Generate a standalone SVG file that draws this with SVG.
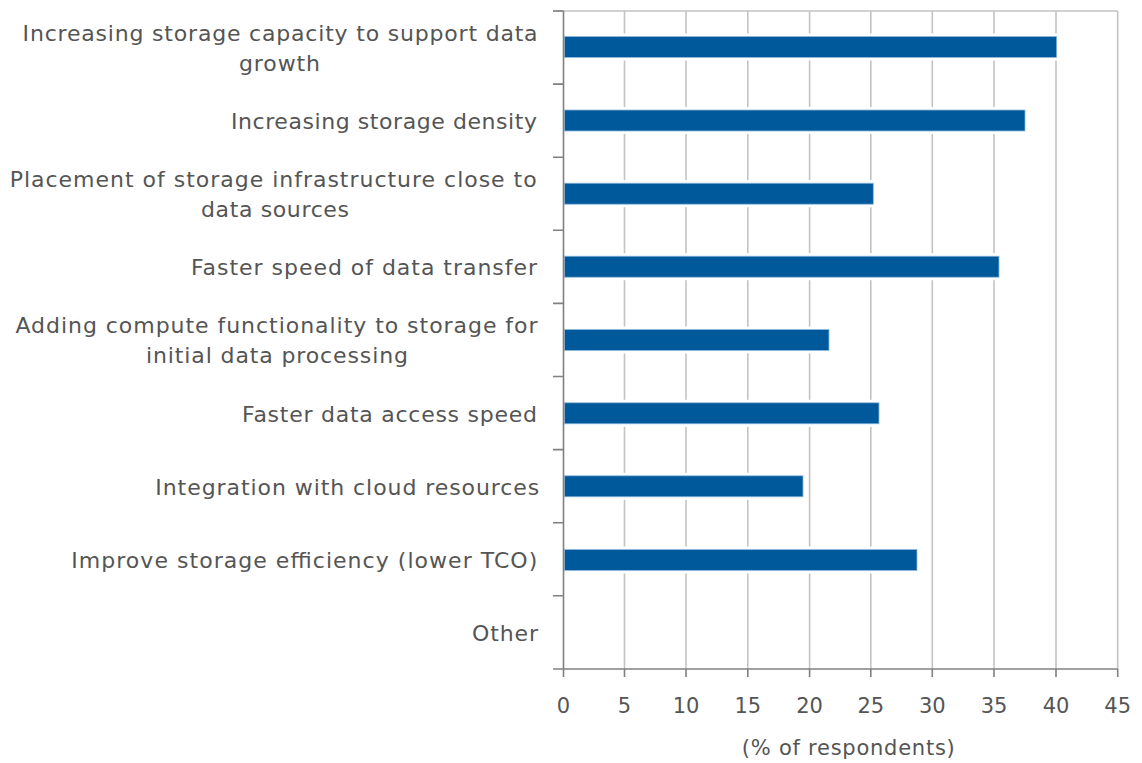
<svg xmlns="http://www.w3.org/2000/svg" width="1142" height="763" viewBox="0 0 1142 763">
<style>
.grid{stroke:#c3c3c3;stroke-width:1.6;fill:none}
.axis{stroke:#808080;stroke-width:1.6;fill:none}
.gap{fill:#ffffff}
.bar{fill:#00599a;stroke:#8fb8e0;stroke-width:0.8}
.lbl{font-family:"DejaVu Sans",Verdana,sans-serif;font-size:22px;fill:#555555}
.num{font-family:"DejaVu Sans",Verdana,sans-serif;font-size:21px;fill:#555555;text-anchor:middle}
</style>
<rect width="1142" height="763" fill="#ffffff"/>
<g id="gridlines">
<line class="grid" x1="553" y1="11" x2="1117.7" y2="11"/>
<line class="grid" x1="624.5" y1="11" x2="624.5" y2="669"/>
<line class="grid" x1="686" y1="11" x2="686" y2="669"/>
<line class="grid" x1="747.8" y1="11" x2="747.8" y2="669"/>
<line class="grid" x1="809.6" y1="11" x2="809.6" y2="669"/>
<line class="grid" x1="870.8" y1="11" x2="870.8" y2="669"/>
<line class="grid" x1="932.3" y1="11" x2="932.3" y2="669"/>
<line class="grid" x1="994" y1="11" x2="994" y2="669"/>
<line class="grid" x1="1056" y1="11" x2="1056" y2="669"/>
<line class="grid" x1="1117.7" y1="11" x2="1117.7" y2="669"/>
</g>
<g id="bars">
<g id="bar1"><rect class="gap" x="565" y="33.5" width="494.7" height="27"/><rect class="bar" x="564.5" y="36.5" width="492.2" height="21"/></g>
<g id="bar2"><rect class="gap" x="565" y="107" width="463" height="27"/><rect class="bar" x="564.5" y="110" width="460.5" height="21"/></g>
<g id="bar3"><rect class="gap" x="565" y="180.2" width="311.3" height="27"/><rect class="bar" x="564.5" y="183.2" width="308.8" height="21"/></g>
<g id="bar4"><rect class="gap" x="565" y="253.2" width="437" height="27"/><rect class="bar" x="564.5" y="256.2" width="434.5" height="21"/></g>
<g id="bar5"><rect class="gap" x="565" y="326.5" width="267" height="27"/><rect class="bar" x="564.5" y="329.5" width="264.5" height="21"/></g>
<g id="bar6"><rect class="gap" x="565" y="399.8" width="317" height="27"/><rect class="bar" x="564.5" y="402.8" width="314.5" height="21"/></g>
<g id="bar7"><rect class="gap" x="565" y="472.8" width="241" height="27"/><rect class="bar" x="564.5" y="475.8" width="238.5" height="21"/></g>
<g id="bar8"><rect class="gap" x="565" y="546.5" width="355" height="27"/><rect class="bar" x="564.5" y="549.5" width="352.5" height="21"/></g>
</g>
<g id="axes">
<line class="axis" x1="563.5" y1="11" x2="563.5" y2="677"/>
<line class="axis" x1="553" y1="669" x2="1117.7" y2="669"/>
<path class="axis" d="M553 11H563.5M553 84.1H563.5M553 157.2H563.5M553 230.3H563.5M553 303.4H563.5M553 376.5H563.5M553 449.6H563.5M553 522.7H563.5M553 595.8H563.5"/>
<path class="axis" d="M624.5 669V677M686 669V677M747.8 669V677M809.6 669V677M870.8 669V677M932.3 669V677M994 669V677M1056 669V677M1117.7 669V677"/>
</g>
<g id="category-labels">
<text class="lbl" text-anchor="middle" x="280.1" y="40.7" textLength="515" lengthAdjust="spacing">Increasing storage capacity to support data</text>
<text class="lbl" text-anchor="middle" x="279.5" y="70.5" textLength="81" lengthAdjust="spacing">growth</text>
<text class="lbl" text-anchor="end" x="537" y="129.3" textLength="306" lengthAdjust="spacing">Increasing storage density</text>
<text class="lbl" text-anchor="middle" x="273.2" y="186.7" textLength="527" lengthAdjust="spacing">Placement of storage infrastructure close to</text>
<text class="lbl" text-anchor="middle" x="275" y="216.5" textLength="148" lengthAdjust="spacing">data sources</text>
<text class="lbl" text-anchor="end" x="537" y="275.4" textLength="346" lengthAdjust="spacing">Faster speed of data transfer</text>
<text class="lbl" text-anchor="middle" x="276.5" y="333.3" textLength="522" lengthAdjust="spacing">Adding compute functionality to storage for</text>
<text class="lbl" text-anchor="middle" x="277" y="363.3" textLength="262" lengthAdjust="spacing">initial data processing</text>
<text class="lbl" text-anchor="end" x="537" y="421.8" textLength="295" lengthAdjust="spacing">Faster data access speed</text>
<text class="lbl" text-anchor="end" x="539.3" y="494.8" textLength="384" lengthAdjust="spacing">Integration with cloud resources</text>
<text class="lbl" text-anchor="end" x="537.3" y="568" textLength="466" lengthAdjust="spacing">Improve storage efficiency (lower TCO)</text>
<text class="lbl" text-anchor="end" x="538" y="641.3" textLength="66" lengthAdjust="spacing">Other</text>
</g>
<g id="x-axis-labels">
<text class="num" x="563.5" y="713.3">0</text>
<text class="num" x="624.5" y="713.3">5</text>
<text class="num" x="686" y="713.3">10</text>
<text class="num" x="747.8" y="713.3">15</text>
<text class="num" x="809.6" y="713.3">20</text>
<text class="num" x="870.8" y="713.3">25</text>
<text class="num" x="932.3" y="713.3">30</text>
<text class="num" x="994" y="713.3">35</text>
<text class="num" x="1056" y="713.3">40</text>
<text class="num" x="1117.7" y="713.3">45</text>
<text class="num" x="848.3" y="755" textLength="213" lengthAdjust="spacing">(% of respondents)</text>
</g>
</svg>
